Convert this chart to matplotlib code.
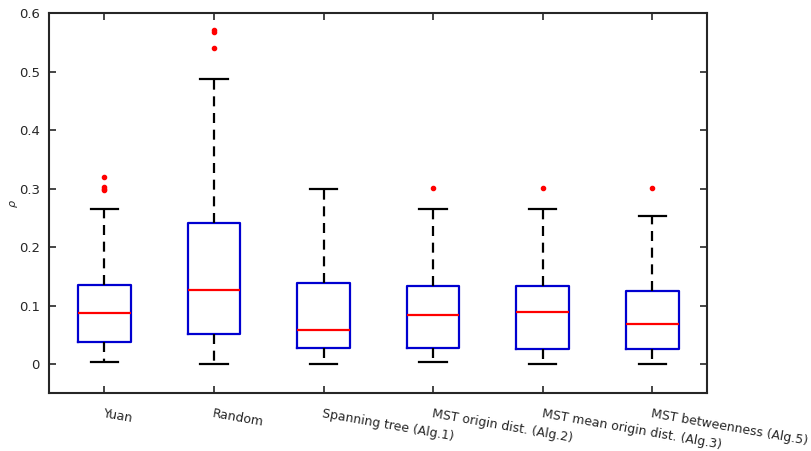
import matplotlib.pyplot as plt

# box statistics
labels = ["Yuan", "Random", "Spanning tree (Alg.1)", "MST origin dist. (Alg.2)",
          "MST mean origin dist. (Alg.3)", "MST betweenness (Alg.5)"]
whislo = [0.003, 0.0, 0.0, 0.004, 0.0, 0.0]
q1 = [0.038, 0.052, 0.027, 0.027, 0.025, 0.025]
med = [0.087, 0.126, 0.058, 0.083, 0.089, 0.068]
q3 = [0.135, 0.241, 0.138, 0.133, 0.134, 0.125]
whishi = [0.265, 0.487, 0.300, 0.265, 0.265, 0.253]
fliers = [[0.298, 0.300, 0.302, 0.319], [0.540, 0.568, 0.571], [], [0.301], [0.301], [0.301]]

stats = []
for i in range(len(labels)):
    stats.append(dict(label=labels[i], whislo=whislo[i], q1=q1[i], med=med[i],
                      q3=q3[i], whishi=whishi[i], fliers=fliers[i]))

fig = plt.figure(figsize=(8.11, 4.51), dpi=100)
ax = fig.add_axes([0.061, 0.128, 0.811, 0.843])
fg = "#262626"

ax.bxp(stats, widths=0.48, showfliers=True,
       boxprops=dict(color="#0000d0", linewidth=1.6),
       medianprops=dict(color="red", linewidth=1.6),
       whiskerprops=dict(color="black", linewidth=1.6, linestyle=(0, (4.5, 3))),
       capprops=dict(color="black", linewidth=1.6),
       capwidths=0.25,
       flierprops=dict(marker="o", markersize=3, markerfacecolor="red",
                       markeredgecolor="red", linestyle="none"))

ax.set_xlim(0.5, 6.5)
ax.set_ylim(-0.05, 0.6)
ax.set_yticks([0, 0.1, 0.2, 0.3, 0.4, 0.5, 0.6])
ax.set_yticklabels(["0", "0.1", "0.2", "0.3", "0.4", "0.5", "0.6"])
ax.set_xticklabels(labels, rotation=-10, ha="left", rotation_mode="anchor")
ax.tick_params(direction="in", top=True, right=True, length=5, width=1.2,
               colors=fg, labelsize=9.5)
ax.tick_params(axis="x", pad=10, labelsize=9)
ax.tick_params(axis="y", pad=7)
for s in ax.spines.values():
    s.set_color(fg)
    s.set_linewidth(1.5)
ax.set_ylabel(r"$\rho$", fontsize=8, color=fg)
ax.yaxis.set_label_coords(-0.045, 0.5)

fig.savefig("out.png", dpi=100)
